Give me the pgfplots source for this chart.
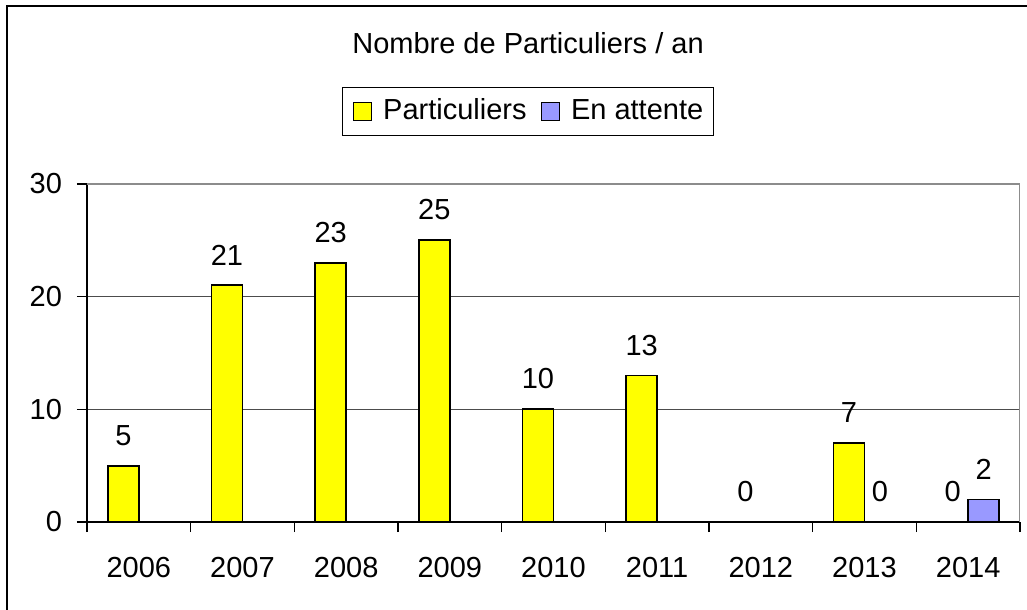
\documentclass[border=0pt]{standalone}
\usepackage{fontspec}
\setmainfont{Liberation Sans}
\usepackage{pgfplots}
\pgfplotsset{compat=1.18}
\definecolor{barY}{HTML}{FFFF00}
\definecolor{barB}{HTML}{9999FF}
\begin{document}
\fontsize{14.5bp}{17bp}\selectfont
\begin{tikzpicture}
\useasboundingbox (-43.5bp,-44bp) rectangle (470bp,261bp);
\begin{axis}[
  at={(0,0)}, anchor=south west,
  scale only axis, width=466.5bp, height=169bp,
  ybar=0pt, bar width=15.5bp,
  xmin=-0.5, xmax=8.5, ymin=0, ymax=30,
  ytick={0,10,20,30},
  xtick={-0.5,0.5,...,8.5}, xticklabels={},
  extra x ticks={0,1,2,3,4,5,6,7,8},
  extra x tick labels={2006,2007,2008,2009,2010,2011,2012,2013,2014},
  extra x tick style={tick style={draw=none}, grid=none},
  x tick label style={yshift=-7.5bp},
  y tick label style={xshift=-2.5bp},
  tick align=outside, major tick length=5bp,
  tick style={black, line width=0.6bp},
  axis x line*=bottom, axis y line*=left,
  axis line style={-, black, line width=0.8bp},
  ymajorgrids, grid style={black!70, line width=0.5bp},
  /pgf/number format/assume math mode=true,
  nodes near coords,
  every node near coord/.append style={anchor=south, yshift=4.8bp, text=black},
  legend columns=2,
  legend style={at={(0.4727,1.2145)}, anchor=center, draw=black, line width=0.5bp,
    inner xsep=5bp, inner ysep=5.5bp,
    nodes={inner sep=0pt},
    /tikz/every odd column/.append style={column sep=5.5bp},
    /tikz/every even column/.append style={column sep=7bp}},
  legend image code/.code={\draw[#1, draw=black, line width=0.7bp] (0bp,-4.5bp) rectangle (9bp,4.5bp);},
]
\addplot[fill=barY, draw=black, line width=0.9bp] coordinates {(0,5)(1,21)(2,23)(3,25)(4,10)(5,13)(6,0)(7,7)(8,0)};
\addplot[fill=barB, draw=black, line width=0.9bp] coordinates {(7,0)(8,2)};
\legend{Particuliers, En attente}
\draw[black!45, line width=0.9bp] (rel axis cs:0,1) -- (rel axis cs:1,1) -- (rel axis cs:1,0);
\end{axis}
\node[anchor=base] at (220.5bp,234bp) {Nombre de Particuliers / an};
\draw[black, line width=1bp] (-40bp,-80bp) -- (-40bp,258bp) -- (520bp,258bp);
\end{tikzpicture}
\end{document}
